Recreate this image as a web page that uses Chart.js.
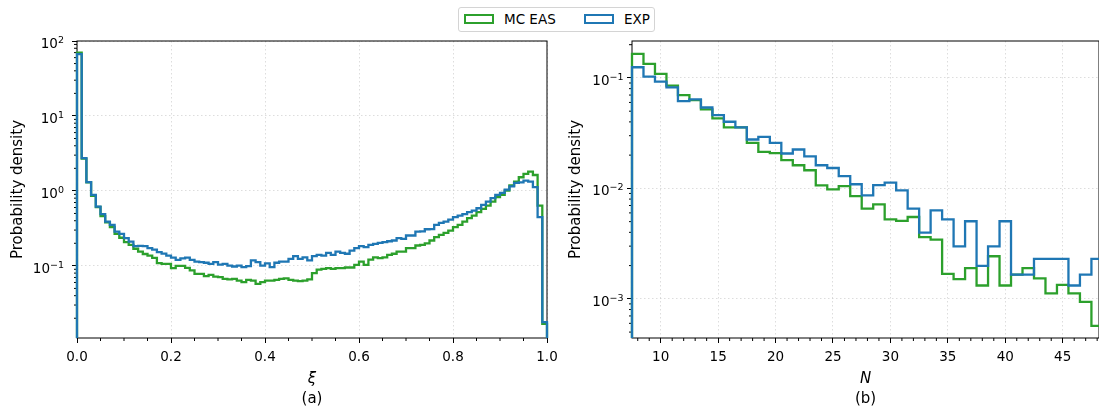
<!DOCTYPE html>
<html>
<head>
<meta charset="utf-8">
<script src="https://cdn.jsdelivr.net/npm/chart.js@4.4.1/dist/chart.umd.min.js"></script>
<style>
  body { margin: 0; background: #fff; width: 1099px; height: 410px; overflow: hidden; position: relative; font-family: 'DejaVu Sans', sans-serif; }
  canvas { position: absolute; top: 0; }
  #chartA { left: 0; }
  #chartB { left: 560px; }
  #legend { position: absolute; left: 458px; top: 7px; width: 195px; height: 23px; border: 1px solid #d4d4d4; border-radius: 3px; background: #fff; }
  .patch { position: absolute; top: 6px; width: 30px; height: 10px; box-sizing: border-box; border: 2.5px solid; }
  .lbl { position: absolute; top: 3px; font-size: 13.5px; line-height: 16px; color: #000; white-space: nowrap; }
</style>
</head>
<body>
<canvas id="chartA" width="560" height="410"></canvas>
<canvas id="chartB" width="539" height="410"></canvas>
<div id="legend">
  <div class="patch" style="left:5px;border-color:#2ca02c"></div><div class="lbl" style="left:45px">MC EAS</div>
  <div class="patch" style="left:125px;border-color:#1f77b4"></div><div class="lbl" style="left:165px">EXP</div>
</div>
<script>
// (a) xi distribution: 100 bins of width 0.01 on [0, 1]
const xiStart = 0, xiWidth = 0.01;
const xiMcEas = [
  70, 2.7, 1.3, 0.86, 0.61, 0.46, 0.38, 0.33, 0.267, 0.237,
  0.207, 0.19, 0.169, 0.155, 0.144, 0.137, 0.128, 0.109, 0.106, 0.106,
  0.093, 0.1, 0.1, 0.094, 0.087, 0.078, 0.078, 0.073, 0.076, 0.072,
  0.0706, 0.067, 0.066, 0.067, 0.0637, 0.0605, 0.065, 0.0637, 0.0575, 0.0605,
  0.0637, 0.0637, 0.065, 0.067, 0.068, 0.065, 0.0637, 0.0625, 0.0637, 0.066,
  0.08, 0.089, 0.091, 0.093, 0.091, 0.093, 0.093, 0.095, 0.095, 0.103,
  0.114, 0.103, 0.121, 0.13, 0.127, 0.13, 0.14, 0.145, 0.155, 0.155,
  0.172, 0.172, 0.187, 0.19, 0.2, 0.218, 0.241, 0.259, 0.275, 0.296,
  0.328, 0.352, 0.39, 0.432, 0.469, 0.52, 0.575, 0.637, 0.72, 0.824,
  0.885, 1.01, 1.18, 1.33, 1.52, 1.69, 1.81, 1.63, 0.637, 0.0168
];
const xiExp = [
  67, 2.73, 1.31, 0.885, 0.618, 0.49, 0.39, 0.352, 0.287, 0.267,
  0.234, 0.211, 0.183, 0.185, 0.183, 0.172, 0.165, 0.152, 0.146, 0.137,
  0.129, 0.12, 0.126, 0.129, 0.12, 0.114, 0.112, 0.11, 0.106, 0.112,
  0.104, 0.106, 0.101, 0.098, 0.101, 0.096, 0.099, 0.118, 0.112, 0.101,
  0.108, 0.096, 0.11, 0.114, 0.114, 0.124, 0.135, 0.124, 0.13, 0.118,
  0.135, 0.14, 0.137, 0.149, 0.14, 0.155, 0.149, 0.145, 0.16, 0.172,
  0.183, 0.178, 0.19, 0.196, 0.203, 0.207, 0.213, 0.218, 0.234, 0.229,
  0.254, 0.254, 0.287, 0.288, 0.308, 0.31, 0.352, 0.374, 0.39, 0.415,
  0.446, 0.469, 0.49, 0.52, 0.547, 0.587, 0.65, 0.72, 0.8, 0.885,
  0.94, 1.04, 1.15, 1.28, 1.3, 1.37, 1.33, 1.12, 0.446, 0.0177
];
const xiTicks = [0, 0.2, 0.4, 0.6, 0.8, 1.0];
const xiTickLabels = ['0.0', '0.2', '0.4', '0.6', '0.8', '1.0'];
const xiYTicks = [0.1, 1, 10, 100];
const xiYTickExps = [-1, 0, 1, 2];

// (b) multiplicity N: unit bins starting at 7.5
const nStart = 7.5, nWidth = 1;
const nMcEas = [
  0.165, 0.134, 0.109, 0.0851, 0.070, 0.063, 0.0519, 0.043, 0.0357, 0.0357,
  0.0258, 0.0214, 0.0209, 0.018, 0.0162, 0.0146, 0.01064, 0.0098, 0.0105, 0.0085,
  0.00656, 0.00718, 0.00525, 0.00507, 0.00551, 0.00362, 0.00343, 0.00168, 0.00151, 0.0019,
  0.00132, 0.00243, 0.00132, 0.00166, 0.0019, 0.00153, 0.00112, 0.00134, 0.00112, 0.00094,
  0.00057
];
const nExp = [
  0.125, 0.1028, 0.0927, 0.0823, 0.0618, 0.064, 0.054, 0.0461, 0.0401, 0.0357,
  0.0277, 0.0293, 0.0258, 0.0207, 0.0225, 0.0195, 0.0162, 0.0153, 0.0129, 0.0109,
  0.00865, 0.0107, 0.0113, 0.0096, 0.00656, 0.00397, 0.00633, 0.00525, 0.00298, 0.00504,
  0.00199, 0.00298, 0.00504, 0.00166, 0.00166, 0.0023, 0.0023, 0.0023, 0.00132, 0.00166,
  0.0023
];
const nTicks = [10, 15, 20, 25, 30, 35, 40, 45];
const nTickLabels = ['10', '15', '20', '25', '30', '35', '40', '45'];
const nYTicks = [0.001, 0.01, 0.1];
const nYTickExps = [-3, -2, -1];

const GREEN = '#2ca02c';
const BLUE = '#1f77b4';
const FONT = 'DejaVu Sans';
Chart.defaults.color = '#000';

// outline of a step histogram; ends drop to `floor` (below the axis)
function stepPoints(start, width, values, floor) {
  const pts = [{x: start, y: floor}];
  values.forEach((v, i) => pts.push({x: start + i * width, y: v}));
  const end = start + values.length * width;
  pts.push({x: end, y: values[values.length - 1]});
  pts.push({x: end, y: floor});
  return pts;
}

function linearMinors(step, from, to, skipEvery) {
  const out = [];
  for (let i = Math.ceil(from / step); i * step <= to + 1e-9; i++) {
    if (i % skipEvery !== 0) out.push(i * step);
  }
  return out;
}

function logMinors(lo, hi) {
  const out = [];
  for (let e = Math.floor(Math.log10(lo)); e <= Math.ceil(Math.log10(hi)); e++) {
    for (let m = 2; m <= 9; m++) {
      const v = m * Math.pow(10, e);
      if (v >= lo && v <= hi) out.push(v);
    }
  }
  return out;
}

// axes frame, short minor tick marks and 10^n labels on the log axis
const framePlugin = {
  id: 'frame',
  beforeDatasetsDraw(chart, args, opts) {
    const {ctx, chartArea: a, scales} = chart;
    ctx.save();
    ctx.strokeStyle = '#000';
    ctx.lineWidth = 1;
    ctx.strokeRect(a.left, a.top, a.right - a.left, a.bottom - a.top);
    ctx.beginPath();
    opts.xMinor.forEach(v => {
      const px = scales.x.getPixelForValue(v);
      ctx.moveTo(px, a.bottom);
      ctx.lineTo(px, a.bottom + 3);
    });
    opts.yMinor.forEach(v => {
      const py = scales.y.getPixelForValue(v);
      ctx.moveTo(a.left, py);
      ctx.lineTo(a.left - 3, py);
    });
    ctx.stroke();
    ctx.restore();
  },
  afterDraw(chart, args, opts) {
    const {ctx, chartArea: a, scales} = chart;
    const right = a.left - 5 - opts.labelPad;
    ctx.save();
    ctx.fillStyle = '#000';
    ctx.textBaseline = 'alphabetic';
    opts.yTicks.forEach((value, i) => {
      const e = opts.yExps[i];
      const py = scales.y.getPixelForValue(value);
      const expText = e < 0 ? '\u2212' + (-e) : String(e);
      ctx.font = '9.5px "' + FONT + '"';
      const ew = ctx.measureText(expText).width;
      ctx.textAlign = 'left';
      ctx.fillText(expText, right - ew, py + 2);
      ctx.font = '13.5px "' + FONT + '"';
      ctx.textAlign = 'right';
      ctx.fillText('10', right - ew, py + 7);
    });
    ctx.restore();
  }
};

function histChart(id, c) {
  const line = {
    borderWidth: 2.3, pointRadius: 0, stepped: true, fill: false,
    borderJoinStyle: 'miter', clip: {left: 2, top: 2, right: 2, bottom: 0}
  };
  return new Chart(document.getElementById(id), {
    type: 'line',
    data: {
      datasets: [
        Object.assign({label: 'EXP', data: stepPoints(c.start, c.width, c.exp, c.floor), borderColor: BLUE, order: 1}, line),
        Object.assign({label: 'MC EAS', data: stepPoints(c.start, c.width, c.mc, c.floor), borderColor: GREEN, order: 2}, line)
      ]
    },
    plugins: [framePlugin],
    options: {
      responsive: false,
      animation: false,
      events: [],
      layout: {padding: {top: 41, right: c.padRight, bottom: 2, left: 0}},
      plugins: {
        legend: {display: false},
        tooltip: {enabled: false},
        title: {
          display: true, text: c.caption, position: 'bottom', fullSize: false,
          color: '#000', font: {family: FONT, size: 15, weight: 'normal'}, padding: 0
        },
        frame: {xMinor: c.xMinor, yMinor: c.yMinor, yTicks: c.yTicks, yExps: c.yExps, labelPad: c.labelPad}
      },
      scales: {
        x: {
          type: 'linear', min: c.xMin, max: c.xMax,
          afterBuildTicks: s => { s.ticks = c.xTicks.map(v => ({value: v})); },
          afterFit: s => { s.height = 52; s.paddingLeft = 0; s.paddingRight = 0; },
          ticks: {
            autoSkip: false, maxRotation: 0, padding: 6,
            font: {family: FONT, size: 13.5}, color: '#000',
            callback: (v, i) => c.xTickLabels[i]
          },
          grid: {color: 'rgba(170,170,170,0.5)', lineWidth: 0.8, tickColor: '#000', tickWidth: 1, tickLength: 5},
          border: {display: false, dash: [1.5, 2.5]},
          title: {
            display: true, text: c.xTitle, color: '#000',
            font: {family: FONT, size: 15, style: 'italic'}, padding: {top: 0, bottom: 2}
          }
        },
        y: {
          type: 'logarithmic', min: c.yMin, max: c.yMax,
          afterBuildTicks: s => { s.ticks = c.yTicks.map(v => ({value: v})); },
          afterFit: s => { s.width = c.yWidth; s.paddingTop = 0; s.paddingBottom = 0; },
          ticks: {display: false},
          grid: {color: 'rgba(170,170,170,0.5)', lineWidth: 0.8, tickColor: '#000', tickWidth: 1, tickLength: 5},
          border: {display: false, dash: [1.5, 2.5]},
          title: {
            display: true, text: 'Probability density', color: '#000',
            font: {family: FONT, size: 15}, padding: {top: c.yTitlePad, bottom: 0}
          }
        }
      }
    }
  });
}

histChart('chartA', {
  start: xiStart, width: xiWidth, mc: xiMcEas, exp: xiExp, floor: 1e-5,
  xMin: 0, xMax: 1, yMin: 0.0109, yMax: 100,
  xTicks: xiTicks, xTickLabels: xiTickLabels, yTicks: xiYTicks, yExps: xiYTickExps,
  xMinor: linearMinors(0.05, 0, 1, 4), yMinor: logMinors(0.0109, 100),
  xTitle: 'ξ', caption: '(a)', yWidth: 77, yTitlePad: 9, padRight: 13, labelPad: 8
});

histChart('chartB', {
  start: nStart, width: nWidth, mc: nMcEas, exp: nExp, floor: 1e-6,
  xMin: 7.5, xMax: 48.16, yMin: 0.000442, yMax: 0.216,
  xTicks: nTicks, xTickLabels: nTickLabels, yTicks: nYTicks, yExps: nYTickExps,
  xMinor: linearMinors(1, 8, 48, 5), yMinor: logMinors(0.000442, 0.216),
  xTitle: 'N', caption: '(b)', yWidth: 72, yTitlePad: 7, padRight: 0, labelPad: 3.5
});
</script>
</body>
</html>
